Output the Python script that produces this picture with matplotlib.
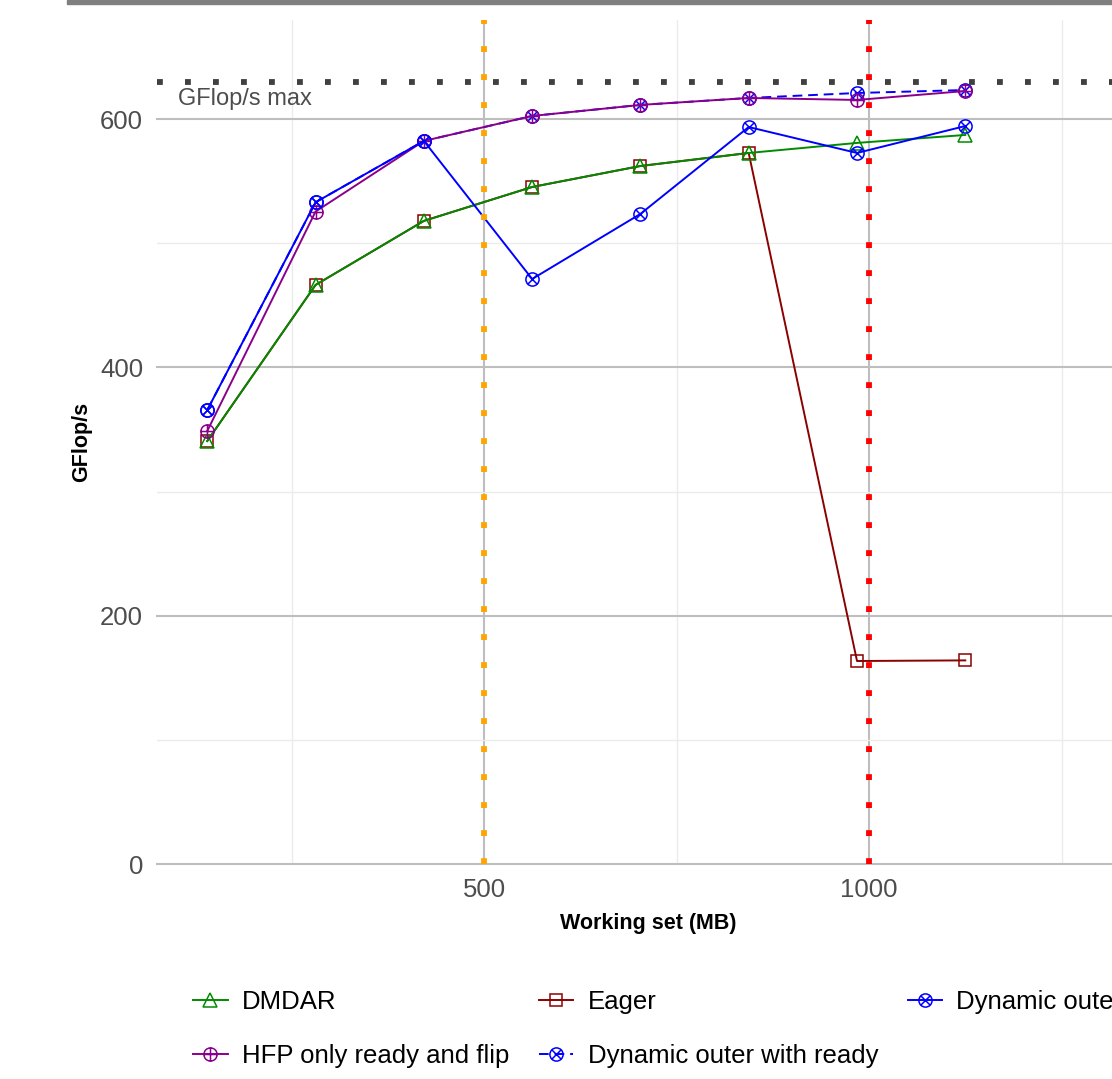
import numpy as np
import matplotlib.pyplot as plt
from matplotlib.path import Path
from matplotlib.patches import Rectangle

plt.rcParams['font.family'] = ['Liberation Sans', 'DejaVu Sans']

# working set sizes (MB)
working_set = [140.6, 281.2, 421.9, 562.5, 703.1, 843.7, 984.4, 1125.0]

dmdar = [340.7, 466.4, 518.0, 545.3, 562.2, 572.7, 580.8, 587.2]
eager = [340.7, 466.4, 518.0, 545.3, 562.2, 572.7, 163.5, 164.0]
dyn_outer = [365.7, 533.0, 582.4, 471.2, 523.6, 593.6, 572.7, 594.4]
hfp_ready_flip = [348.8, 525.5, 582.4, 602.5, 611.4, 617.0, 615.4, 622.6]
dyn_outer_ready = [365.7, 533.0, 582.4, 602.5, 611.4, 617.0, 621.0, 623.4]

gflops_max = 630
memory_lines = [500, 1000]
memory_colors = ['#FFA500', '#FF0000']

# custom markers like ggplot shapes 10 and 13
circ = Path.unit_circle()
plus = Path([[-1, 0], [1, 0], [0, -1], [0, 1]],
            [Path.MOVETO, Path.LINETO, Path.MOVETO, Path.LINETO])
d = 0.7071
cross = Path([[-d, -d], [d, d], [-d, d], [d, -d]],
             [Path.MOVETO, Path.LINETO, Path.MOVETO, Path.LINETO])
circ_plus = Path.make_compound_path(circ, plus)
circ_x = Path.make_compound_path(circ, cross)

W, H = 1112, 1079
fig = plt.figure(figsize=(W / 100, H / 100), dpi=100)
ax = fig.add_axes([157 / W, (H - 864) / H, (1139 - 157) / W, (864 - 20) / H])

ax.set_xlim(75.3, 1350.6)
ax.set_ylim(0, 679.8)
ax.set_xticks([500, 1000])
ax.set_xticks([250, 750, 1250], minor=True)
ax.set_yticks([0, 200, 400, 600])
ax.set_yticks([100, 300, 500], minor=True)
ax.grid(which='major', color='#BEBEBE', linewidth=1.5)
ax.grid(which='minor', color='#EBEBEB', linewidth=1.0)
for ln in ax.get_ygridlines():
    ln.set_clip_on(False)
ax.set_axisbelow(True)
for s in ax.spines.values():
    s.set_visible(False)
ax.tick_params(which='both', length=0, labelsize=18.5, labelcolor='#4D4D4D')
ax.tick_params(axis='y', pad=10)
ax.tick_params(axis='x', pad=10)

ms = 9.5
mew = 1.1
lw = 1.4
ax.plot(working_set, eager, color='#8B0000', lw=lw, marker='s', ms=ms * 0.85,
        mfc='none', mew=mew, label='Eager')
ax.plot(working_set, dmdar, color='#008B00', lw=lw, marker='^', ms=ms,
        mfc='none', mew=mew, label='DMDAR')
ax.plot(working_set, dyn_outer_ready, color='#0000FF', lw=lw, ls=(0, (5, 3)),
        marker=circ_x, ms=ms, mfc='none', mew=mew, label='Dynamic outer with ready')
ax.plot(working_set, hfp_ready_flip, color='#8B008B', lw=lw, marker=circ_plus,
        ms=ms, mfc='none', mew=mew, label='HFP only ready and flip')
ax.plot(working_set, dyn_outer, color='#0000FF', lw=lw, marker=circ_x, ms=ms,
        mfc='none', mew=mew, label='Dynamic outer')

for xv, c in zip(memory_lines, memory_colors):
    ax.axvline(xv, color=c, lw=4.2, ls=(0, (1, 3.8)), dash_capstyle='butt')
ax.axhline(gflops_max, color='#404040', lw=4.2, ls=(0, (1, 3.8)), dash_capstyle='butt')
ax.text(102.6, 616.2, 'GFlop/s max', fontsize=17, color='#4D4D4D',
        ha='left', va='center')

ax.set_xlabel('Working set (MB)', fontsize=15.5, fontweight='bold', labelpad=8)
ax.set_ylabel('GFlop/s', fontsize=15.5, fontweight='bold', labelpad=6)

# cropped strip at the top
fig.patches.append(Rectangle((67 / W, 1 - 4 / H), 1, 4 / H, transform=fig.transFigure,
                             color='#7F7F7F', zorder=0))

handles, labels = ax.get_legend_handles_labels()
hmap = dict(zip(labels, handles))
# ncol fills by column in matplotlib, reorder so rows read like ggplot
cols = [['DMDAR', 'HFP only ready and flip'], ['Eager', 'Dynamic outer with ready'],
        ['Dynamic outer']]
seq = [name for col in cols for name in col]
fig.legend([hmap[n] for n in seq], seq, ncol=3, loc='upper left',
           bbox_to_anchor=(193 / W, (H - 990) / H), frameon=False, fontsize=18.5,
           handlelength=1.35, handletextpad=0.55, columnspacing=1.15,
           labelspacing=1.15, borderpad=0, borderaxespad=0)

fig.savefig('out.png', dpi=100)
